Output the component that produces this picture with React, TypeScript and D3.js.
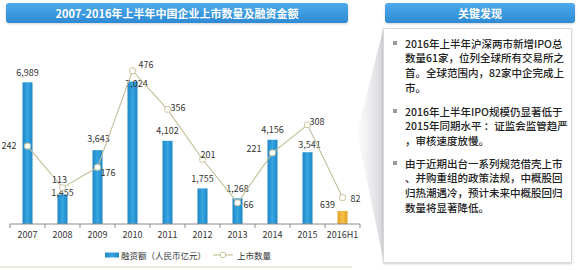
import React from "react";
import * as d3 from "d3";

const categories = ["2007", "2008", "2009", "2010", "2011", "2012", "2013", "2014", "2015", "2016H1"];
const financing = [6989, 1455, 3643, 7024, 4102, 1755, 1268, 4156, 3541, 639];
const listings = [242, 113, 176, 476, 356, 201, 66, 221, 308, 82];

const chartTitle = "2007-2016年上半年中国企业上市数量及融资金额";
const barLegend = "融资额（人民币亿元）";
const lineLegend = "上市数量";

const panelTitle = "关键发现";
const findings = [
  ["2016年上半年沪深两市新增IPO总", "数量61家，位列全球所有交易所之", "首。全球范围内，82家中企完成上", "市。"],
  ["2016年上半年IPO规模仍显著低于", "2015年同期水平 ：证监会监管趋严", "，审核速度放慢。"],
  ["由于近期出台一系列规范借壳上市", "、并购重组的政策法规，中概股回", "归热潮遇冷，预计未来中概股回归", "数量将显著降低。"],
];

// label placement tweaks: [dx, dy, anchor]
const barLabelShift: Record<string, [number, number]> = {
  "2008": [0, 8],
  "2009": [1, -2],
  "2010": [4, 12],
  "2015": [2, 2],
  "2016H1": [-15, 3],
};
const lineLabelPos: Record<string, [number, number, string]> = {
  "2007": [-11, -1, "end"],
  "2008": [-3, -8, "middle"],
  "2009": [3, 5, "start"],
  "2010": [6, -6, "start"],
  "2011": [3, -2, "start"],
  "2012": [-2, -5, "start"],
  "2013": [6, 2, "start"],
  "2014": [-11, -4, "end"],
  "2015": [2, -3, "start"],
  "2016H1": [8, 1, "start"],
};

const W = 580;
const H = 270;
const axisY = 224;
const FONT = "'Noto Sans CJK SC', 'Noto Sans', sans-serif";

export default function App() {
  const x = d3.scaleBand<string>().domain(categories).range([10, 360]).padding(0);
  const yBar = d3.scaleLinear().domain([0, 7300]).range([axisY, 76]);
  const yLine = d3.scaleLinear().domain([0, 500]).range([axisY, axisY - 161]);
  const cx = (c: string) => (x(c) as number) + x.bandwidth() / 2;
  const barW = 10;
  const fmt = d3.format(",");

  const linePath = d3
    .line<number>()
    .x((_, i) => cx(categories[i]))
    .y((d) => yLine(d))(listings) as string;

  const boundaries = d3.range(categories.length + 1).map((i) => 10 + i * x.bandwidth());

  let lineCursor = 0;
  const paraStarts = [43, 111, 163];
  const step = 14.7;

  return (
    <svg
      width={W}
      height={H}
      style={{ position: "absolute", left: 0, top: 0, background: "#fff" }}
      fontFamily={FONT}
    >
      <defs>
        <linearGradient id="titleGrad" x1="0" y1="0" x2="0" y2="1">
          <stop offset="0" stopColor="#4eaaec" />
          <stop offset="1" stopColor="#2d8ad3" />
        </linearGradient>
        <linearGradient id="barBlue" x1="0" y1="0" x2="1" y2="0">
          <stop offset="0" stopColor="#1f86c4" />
          <stop offset="0.5" stopColor="#35a6e2" />
          <stop offset="1" stopColor="#1f86c4" />
        </linearGradient>
        <linearGradient id="barGold" x1="0" y1="0" x2="1" y2="0">
          <stop offset="0" stopColor="#e3a323" />
          <stop offset="0.5" stopColor="#f5bf45" />
          <stop offset="1" stopColor="#e3a323" />
        </linearGradient>
        <linearGradient id="curl" x1="0" y1="0" x2="1" y2="0">
          <stop offset="0" stopColor="#ececef" stopOpacity="0.2" />
          <stop offset="1" stopColor="#d4d4da" />
        </linearGradient>
        <filter id="soft" x="-5%" y="-20%" width="110%" height="160%">
          <feDropShadow dx="0" dy="1" stdDeviation="1" floodColor="#000" floodOpacity="0.18" />
        </filter>
      </defs>

      {/* left title bar */}
      <rect x={6} y={3} width={342} height={20} rx={3} fill="url(#titleGrad)" filter="url(#soft)" />
      <text x={177} y={13} textAnchor="middle" dominantBaseline="central" fill="#fff" fontSize={11} fontWeight={700}>
        {chartTitle}
      </text>

      {/* bottom edge of chart panel */}
      <line x1={0} x2={352} y1={267} y2={267} stroke="#e6e3cf" strokeWidth={1.5} />

      {/* bars */}
      {categories.map((c, i) => (
        <rect
          key={c}
          x={cx(c) - barW / 2}
          y={yBar(financing[i])}
          width={barW}
          height={axisY - yBar(financing[i])}
          fill={i === categories.length - 1 ? "url(#barGold)" : "url(#barBlue)"}
        />
      ))}

      {/* x axis */}
      <line x1={10} x2={360} y1={axisY} y2={axisY} stroke="#8a8a8a" strokeWidth={1} />
      {boundaries.map((b, i) => (
        <line key={i} x1={b} x2={b} y1={axisY} y2={axisY + 4} stroke="#8a8a8a" strokeWidth={1} />
      ))}
      {categories.map((c) => (
        <text key={c} x={cx(c)} y={234} textAnchor="middle" dominantBaseline="central" fontSize={9} fill="#333">
          {c}
        </text>
      ))}

      {/* bar value labels */}
      {categories.map((c, i) => {
        const [dx, dy] = barLabelShift[c] || [0, 0];
        return (
          <text
            key={c}
            x={cx(c) + dx}
            y={yBar(financing[i]) - 10 + dy}
            textAnchor="middle"
            dominantBaseline="central"
            fontSize={9}
            fill="#333"
          >
            {fmt(financing[i])}
          </text>
        );
      })}

      {/* listings line */}
      <path d={linePath} fill="none" stroke="#c2bd98" strokeWidth={1.1} />
      {categories.map((c, i) => (
        <rect
          key={c}
          x={cx(c) - 2.8}
          y={yLine(listings[i]) - 2.8}
          width={5.6}
          height={5.6}
          rx={1.5}
          fill="#fff"
          stroke="#c9c49c"
          strokeWidth={1}
        />
      ))}
      {categories.map((c, i) => {
        const [dx, dy, anchor] = lineLabelPos[c];
        return (
          <text
            key={c}
            x={cx(c) + dx}
            y={yLine(listings[i]) + dy}
            textAnchor={anchor as any}
            dominantBaseline="central"
            fontSize={9}
            fill="#333"
          >
            {listings[i]}
          </text>
        );
      })}

      {/* legend */}
      <rect x={105} y={252.5} width={14} height={5} fill="url(#barBlue)" />
      <text x={121} y={255} dominantBaseline="central" fontSize={8.5} fill="#333">
        {barLegend}
      </text>
      <line x1={213} x2={233} y1={255} y2={255} stroke="#c2bd98" strokeWidth={1.1} />
      <rect x={220.5} y={252.5} width={5} height={5} rx={1.3} fill="#fff" stroke="#c9c49c" />
      <text x={237} y={255} dominantBaseline="central" fontSize={8.5} fill="#333">
        {lineLegend}
      </text>

      {/* fold shading beside the findings panel */}
      <polygon points="383,30 357,133 383,258" fill="url(#curl)" />

      {/* findings panel */}
      <rect x={385} y={3} width={190} height={20} rx={3} fill="url(#titleGrad)" filter="url(#soft)" />
      <text x={480} y={13} textAnchor="middle" dominantBaseline="central" fill="#fff" fontSize={11} fontWeight={700}>
        {panelTitle}
      </text>
      <rect x={383.5} y={28.5} width={188} height={234} fill="#fff" stroke="#d9d9d9" strokeWidth={1} filter="url(#soft)" />

      {findings.map((para, pi) => {
        const y0 = paraStarts[pi];
        return (
          <g key={pi}>
            <rect x={393} y={y0 - 2} width={4} height={4} fill="#9a9a9a" />
            {para.map((ln, li) => {
              lineCursor++;
              return (
                <text
                  key={li}
                  x={405}
                  y={y0 + li * step}
                  dominantBaseline="central"
                  fontSize={10.5}
                  fontWeight={500}
                  fill="#222"
                >
                  {ln}
                </text>
              );
            })}
          </g>
        );
      })}
    </svg>
  );
}
